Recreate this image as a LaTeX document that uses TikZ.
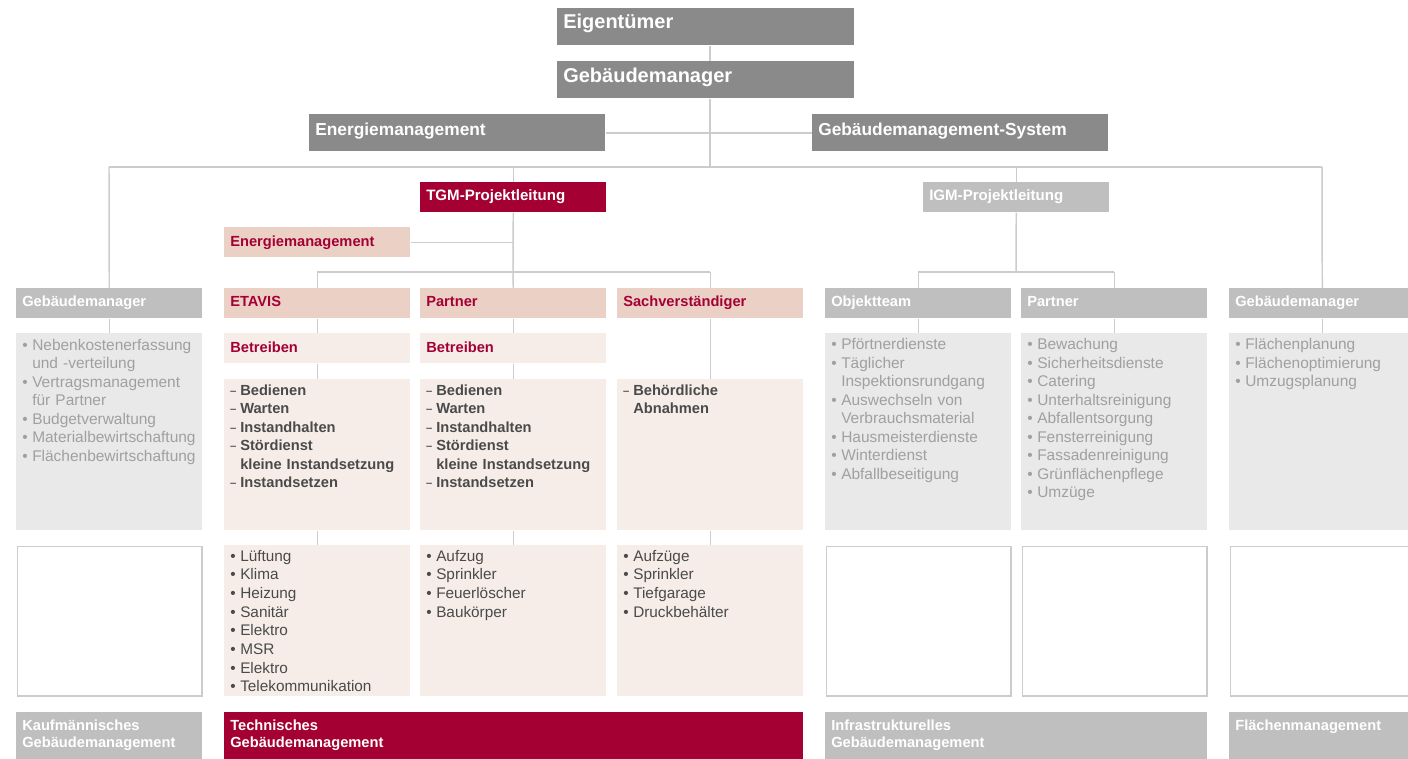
\documentclass[tikz,border=0pt]{standalone}
\usepackage{fontspec}
\setmainfont{Liberation Sans}
\definecolor{dgrey}{HTML}{8A8A8A}
\definecolor{lgrey}{HTML}{BFBFBF}
\definecolor{vlgrey}{HTML}{E9E9E9}
\definecolor{crim}{HTML}{A50034}
\definecolor{pinkh}{HTML}{EBD1C5}
\definecolor{pinkl}{HTML}{F6EDE9}
\definecolor{linec}{HTML}{CCCCCC}
\definecolor{ltxt}{HTML}{A0A0A0}
\definecolor{dtxt}{HTML}{4A4A4A}
\newcommand{\bxx}[6]{\node[#6, anchor=north west, inner sep=0pt, minimum width={(#4-#2)*0.75pt}, minimum height={(#5-#3)*0.75pt}] (#1) at (#2,#3) {};}
\newcommand{\tx}[5]{\node[#4, anchor=base west, inner sep=0pt] (#1) at (#2,#3) {#5};}
\newcommand{\bul}[1]{\makebox[7.5pt][l]{•}#1}
\newcommand{\cnt}[1]{\hspace*{7.5pt}#1}
\newcommand{\dsh}[1]{\makebox[7.5pt][l]{\mdseries\scalebox{0.7}[1]{–}}#1}
\tikzset{
  dg/.style={fill=dgrey},
  lg/.style={fill=lgrey},
  vl/.style={fill=vlgrey},
  crimbox/.style={fill=crim},
  ph/.style={fill=pinkh},
  pl/.style={fill=pinkl},
  wb/.style={fill=white, draw=linec, line width=1.1pt},
  conn/.style={draw=linec, line width=1.1pt},
  tA/.style={font=\fontsize{15}{18}\selectfont\bfseries, text=white},
  tB/.style={font=\fontsize{13}{16}\selectfont\bfseries, text=white},
  tC/.style={font=\fontsize{11.3}{14}\selectfont\bfseries, text=white},
  hw/.style={font=\fontsize{11}{14}\selectfont\bfseries, text=white},
  hr/.style={font=\fontsize{11}{14}\selectfont\bfseries, text=crim},
  lst/.style={font=\fontsize{11.6}{13.9}\selectfont, text=ltxt, text width=138pt, align=left},
  dlst/.style={font=\fontsize{11}{13.9}\selectfont\bfseries, text=dtxt, text width=138pt, align=left},
  blst/.style={font=\fontsize{11.5}{14}\selectfont, text=dtxt, text width=138pt, align=left},
  bar/.style={font=\fontsize{11}{13.3}\selectfont\bfseries, text=white, text width=280pt, align=left}
}
\begin{document}
\begin{tikzpicture}[x=0.75pt, y=-0.75pt]
\useasboundingbox (0,0) rectangle (1408,758);
\clip (0,0) rectangle (1408,758);
\fill[white] (0,0) rectangle (1408,758);

% boxes
\bxx{eig}{557}{8}{854}{45}{dg}
\bxx{gm}{557}{61}{854}{98}{dg}
\bxx{em}{309}{114}{605}{151}{dg}
\bxx{gms}{812}{114}{1108}{151}{dg}
\bxx{tgm}{420}{182}{606}{212}{crimbox}
\bxx{igm}{923}{182}{1109}{212}{lg}
\bxx{emp}{224}{227}{410}{257}{ph}

\bxx{h1}{16}{288}{202}{318}{lg}
\bxx{h2}{224}{288}{410}{318}{ph}
\bxx{h3}{420}{288}{606}{318}{ph}
\bxx{h4}{617}{288}{803}{318}{ph}
\bxx{h5}{825}{288}{1011}{318}{lg}
\bxx{h6}{1021}{288}{1207}{318}{lg}
\bxx{h7}{1229}{288}{1415}{318}{lg}

\bxx{b2}{224}{333}{410}{363}{pl}
\bxx{b3}{420}{333}{606}{363}{pl}

\bxx{l1}{16}{333}{202}{530}{vl}
\bxx{l5}{825}{333}{1011}{530}{vl}
\bxx{l6}{1021}{333}{1207}{530}{vl}
\bxx{l7}{1229}{333}{1415}{530}{vl}

\bxx{d2}{224}{379}{410}{530}{pl}
\bxx{d3}{420}{379}{606}{530}{pl}
\bxx{d4}{617}{379}{803}{530}{pl}

\bxx{w1}{16.7}{545.7}{201.3}{695.3}{wb}
\bxx{p2}{224}{545}{410}{696}{pl}
\bxx{p3}{420}{545}{606}{696}{pl}
\bxx{p4}{617}{545}{803}{696}{pl}
\bxx{w5}{825.7}{545.7}{1010.3}{695.3}{wb}
\bxx{w6}{1021.7}{545.7}{1206.3}{695.3}{wb}
\bxx{w7}{1229.7}{545.7}{1414.3}{695.3}{wb}

\bxx{k1}{16}{712}{202}{762}{lg}
\bxx{k2}{224}{712}{803}{762}{crimbox}
\bxx{k3}{825}{712}{1207}{762}{lg}
\bxx{k4}{1229}{712}{1415}{762}{lg}

% connectors
\coordinate (jL) at (109,167);
\coordinate (jR) at (1322,167);
\coordinate (jV) at (710,167);
\coordinate (jT) at (513,272);
\coordinate (jI) at (1016,272);
\draw[conn] (eig.south -| jV) -- (gm.north -| jV);
\draw[conn] (gm.south -| jV) -- (jV);
\draw[conn] (em.east) -- (gms.west);
\draw[conn] (jL) -- (jR);
\draw[conn] (jL) -- (h1.north);
\draw[conn] (jR) -- (h7.north);
\draw[conn] (tgm.north |- jL) -- (tgm.north);
\draw[conn] (igm.north |- jL) -- (igm.north);
\draw[conn] (tgm.south) -- (jT);
\draw[conn] (emp.east) -- (emp.east -| jT);
\draw[conn] (h2.north |- jT) -- (h4.north |- jT);
\draw[conn] (h2.north |- jT) -- (h2.north);
\draw[conn] (jT) -- (h3.north);
\draw[conn] (h4.north |- jT) -- (h4.north);
\draw[conn] (igm.south) -- (jI);
\draw[conn] (h5.north |- jI) -- (h6.north |- jI);
\draw[conn] (h5.north |- jI) -- (h5.north);
\draw[conn] (h6.north |- jI) -- (h6.north);
\draw[conn] (h1.south) -- (l1.north);
\draw[conn] (h2.south) -- (b2.north);
\draw[conn] (b2.south) -- (d2.north);
\draw[conn] (d2.south) -- (p2.north);
\draw[conn] (h3.south) -- (b3.north);
\draw[conn] (b3.south) -- (d3.north);
\draw[conn] (d3.south) -- (p3.north);
\draw[conn] (h4.south) -- (d4.north);
\draw[conn] (d4.south) -- (p4.north);
\draw[conn] (h5.south) -- (l5.north);
\draw[conn] (h6.south) -- (l6.north);
\draw[conn] (h7.south) -- (l7.north);

% texts
\tx{teig}{563}{28.5}{tA}{Eigentümer}
\tx{tgm1}{563}{82}{tA}{Gebäudemanager}
\tx{tem}{315}{135}{tB}{Energiemanagement}
\tx{tgms}{818}{135}{tB}{Gebäudemanagement-System}
\tx{ttgm}{426}{200}{tC}{TGM-Projektleitung}
\tx{tigm}{929}{200}{tC}{IGM-Projektleitung}
\tx{temp}{230}{246}{hr}{Energiemanagement}

\tx{th1}{22}{306}{hw}{Gebäudemanager}
\tx{th2}{230}{306}{hr}{ETAVIS}
\tx{th3}{426}{306}{hr}{Partner}
\tx{th4}{623}{306}{hr}{Sachverständiger}
\tx{th5}{831}{306}{hw}{Objektteam}
\tx{th6}{1027}{306}{hw}{Partner}
\tx{th7}{1235}{306}{hw}{Gebäudemanager}

\tx{tb2}{230}{352}{hr}{Betreiben}
\tx{tb3}{426}{352}{hr}{Betreiben}

\tx{tl1}{22}{350}{lst}{\bul{Nebenkostenerfassung}\\\cnt{und -verteilung}\\\bul{Vertragsmanagement}\\\cnt{für Partner}\\\bul{Budgetverwaltung}\\\bul{Materialbewirtschaftung}\\\bul{Flächenbewirtschaftung}}
\tx{tl5}{831}{349.5}{lst}{\bul{Pförtnerdienste}\\\bul{Täglicher}\\\cnt{Inspektionsrundgang}\\\bul{Auswechseln von}\\\cnt{Verbrauchsmaterial}\\\bul{Hausmeisterdienste}\\\bul{Winterdienst}\\\bul{Abfallbeseitigung}}
\tx{tl6}{1027}{349.5}{lst}{\bul{Bewachung}\\\bul{Sicherheitsdienste}\\\bul{Catering}\\\bul{Unterhaltsreinigung}\\\bul{Abfallentsorgung}\\\bul{Fensterreinigung}\\\bul{Fassadenreinigung}\\\bul{Grünflächenpflege}\\\bul{Umzüge}}
\tx{tl7}{1235}{349.5}{lst}{\bul{Flächenplanung}\\\bul{Flächenoptimierung}\\\bul{Umzugsplanung}}

\tx{td2}{230}{395}{dlst}{\dsh{Bedienen}\\\dsh{Warten}\\\dsh{Instandhalten}\\\dsh{Stördienst}\\\cnt{kleine Instandsetzung}\\\dsh{Instandsetzen}}
\tx{td3}{426}{395}{dlst}{\dsh{Bedienen}\\\dsh{Warten}\\\dsh{Instandhalten}\\\dsh{Stördienst}\\\cnt{kleine Instandsetzung}\\\dsh{Instandsetzen}}
\tx{td4}{623}{395}{dlst}{\dsh{Behördliche}\\\cnt{Abnahmen}}

\tx{tp2}{230}{561}{blst}{\bul{Lüftung}\\\bul{Klima}\\\bul{Heizung}\\\bul{Sanitär}\\\bul{Elektro}\\\bul{MSR}\\\bul{Elektro}\\\bul{Telekommunikation}}
\tx{tp3}{426}{561}{blst}{\bul{Aufzug}\\\bul{Sprinkler}\\\bul{Feuerlöscher}\\\bul{Baukörper}}
\tx{tp4}{623}{561}{blst}{\bul{Aufzüge}\\\bul{Sprinkler}\\\bul{Tiefgarage}\\\bul{Druckbehälter}}

\tx{tk1}{22}{730}{bar}{Kaufmännisches\\Gebäudemanagement}
\tx{tk2}{230}{730}{bar}{Technisches\\Gebäudemanagement}
\tx{tk3}{831}{730}{bar}{Infrastrukturelles\\Gebäudemanagement}
\tx{tk4}{1235}{730}{bar}{Flächenmanagement}
\end{tikzpicture}
\end{document}
